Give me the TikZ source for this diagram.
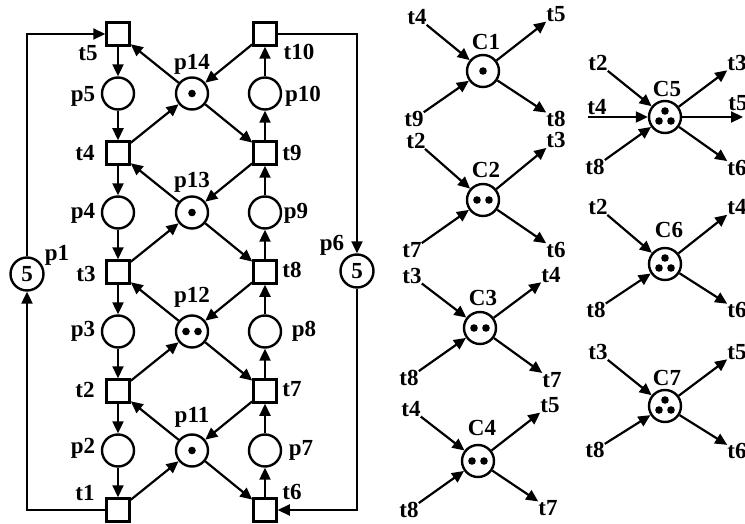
\documentclass[tikz,border=0pt]{standalone}
\usepackage{fontspec}
\setmainfont{Liberation Serif}
\usepackage{tikz}
\usetikzlibrary{arrows.meta, positioning}
\tikzstyle{place} = [circle, draw=black, line width=2.4pt, minimum size=32pt, inner sep=0pt]
\tikzstyle{trans} = [rectangle, draw=black, line width=3pt, minimum size=22.5pt, inner sep=0pt]
\tikzstyle{lbl} = [inner sep=0pt]
\tikzstyle{tok1} = [path picture={\fill (path picture bounding box.center) circle (3.8pt);}]
\tikzstyle{tok2} = [path picture={\fill ([xshift=-6pt]path picture bounding box.center) circle (3.8pt);
                                  \fill ([xshift=6pt]path picture bounding box.center) circle (3.8pt);}]
\tikzstyle{tok3} = [path picture={\fill ([yshift=6pt]path picture bounding box.center) circle (3.8pt);
                                  \fill ([xshift=-6pt,yshift=-4pt]path picture bounding box.center) circle (3.8pt);
                                  \fill ([xshift=6pt,yshift=-4pt]path picture bounding box.center) circle (3.8pt);}]
\tikzstyle{arcline} = [line width=2.2pt, -{Triangle[length=12pt,width=11pt]}]

\begin{document}
\begin{tikzpicture}[x=1pt, y=-1pt, node distance=59.5pt, font=\bfseries\fontsize{23}{24}\selectfont]
            \useasboundingbox (0,0) rectangle (745,524);
            % Nodes: left column
            \node (t5) [trans] at (118,34) {};
            \node (p5) [place, below of=t5] {};
            \node (t4) [trans, below of=p5] {};
            \node (p4) [place, below of=t4] {};
            \node (t3) [trans, below of=p4] {};
            \node (p3) [place, below of=t3] {};
            \node (t2) [trans, below of=p3] {};
            \node (p2) [place, below of=t2] {};
            \node (t1) [trans, below of=p2] {};

            % Nodes: shared places
            \node (p14) [place, tok1, right of=p5, node distance=74pt] {};
            \node (p13) [place, tok1, right of=p4, node distance=74pt] {};
            \node (p12) [place, tok2, right of=p3, node distance=74pt] {};
            \node (p11) [place, tok1, right of=p2, node distance=74pt] {};

            % Nodes: right column
            \node (t10) [trans, right of=t5, node distance=147pt] {};
            \node (p10) [place, right of=p5, node distance=147pt] {};
            \node (t9) [trans, right of=t4, node distance=147pt] {};
            \node (p9) [place, right of=p4, node distance=147pt] {};
            \node (t8) [trans, right of=t3, node distance=147pt] {};
            \node (p8) [place, right of=p3, node distance=147pt] {};
            \node (t7) [trans, right of=t2, node distance=147pt] {};
            \node (p7) [place, right of=p2, node distance=147pt] {};
            \node (t6) [trans, right of=t1, node distance=147pt] {};

            \node (p1) [place, minimum size=33pt] at (27,274) {5};
            \node (p6) [place, minimum size=33pt] at (357,271) {5};

            % Labels
            \node (lt5) [lbl] at (88,53) {t5};
            \node (lt4) [lbl] at (85,153) {t4};
            \node (lt3) [lbl] at (86,274) {t3};
            \node (lt2) [lbl] at (85,390) {t2};
            \node (lt1) [lbl] at (85,493) {t1};
            \node (lt10) [lbl] at (299,52) {t10};
            \node (lt9) [lbl] at (292,153) {t9};
            \node (lt8) [lbl] at (292,270) {t8};
            \node (lt7) [lbl] at (292,389) {t7};
            \node (lt6) [lbl] at (292,492) {t6};
            \node (lp5) [lbl] at (83,96) {p5};
            \node (lp4) [lbl] at (83,213) {p4};
            \node (lp3) [lbl] at (83,331) {p3};
            \node (lp2) [lbl] at (83,448) {p2};
            \node (lp10) [lbl] at (303,96) {p10};
            \node (lp9) [lbl] at (296,213) {p9};
            \node (lp8) [lbl] at (304,331) {p8};
            \node (lp7) [lbl] at (301,450) {p7};
            \node (lp14) [lbl] at (192,64) {p14};
            \node (lp13) [lbl] at (192,182) {p13};
            \node (lp12) [lbl] at (192,297) {p12};
            \node (lp11) [lbl] at (192,417) {p11};
            \node (lp1) [lbl] at (57,255) {p1};
            \node (lp6) [lbl] at (332,245) {p6};

            % Edges: left column
            \draw [arcline] (t5) -- (p5);
            \draw [arcline] (p5) -- (t4);
            \draw [arcline] (t4) -- (p4);
            \draw [arcline] (p4) -- (t3);
            \draw [arcline] (t3) -- (p3);
            \draw [arcline] (p3) -- (t2);
            \draw [arcline] (t2) -- (p2);
            \draw [arcline] (p2) -- (t1);
            % Edges: right column
            \draw [arcline] (t6) -- (p7);
            \draw [arcline] (p7) -- (t7);
            \draw [arcline] (t7) -- (p8);
            \draw [arcline] (p8) -- (t8);
            \draw [arcline] (t8) -- (p9);
            \draw [arcline] (p9) -- (t9);
            \draw [arcline] (t9) -- (p10);
            \draw [arcline] (p10) -- (t10);
            % Edges: shared places
            \draw [arcline] (p14) -- (t5);
            \draw [arcline] (t4) -- (p14);
            \draw [arcline] (p14) -- (t9);
            \draw [arcline] (t10) -- (p14);
            \draw [arcline] (p13) -- (t4);
            \draw [arcline] (t3) -- (p13);
            \draw [arcline] (p13) -- (t8);
            \draw [arcline] (t9) -- (p13);
            \draw [arcline] (p12) -- (t3);
            \draw [arcline] (t2) -- (p12);
            \draw [arcline] (p12) -- (t7);
            \draw [arcline] (t8) -- (p12);
            \draw [arcline] (p11) -- (t2);
            \draw [arcline] (t1) -- (p11);
            \draw [arcline] (p11) -- (t6);
            \draw [arcline] (t7) -- (p11);
            % Edges: resource loops
            \draw [arcline] (t1) -| (p1);
            \draw [arcline] (p1) |- (t5);
            \draw [arcline] (t10) -| (p6);
            \draw [arcline] (p6) |- (t6);

            % Nodes: monitors
            \node (C1) [place, tok1] at (483,71) {};
            \node (C2) [place, tok2] at (483,200) {};
            \node (C3) [place, tok2] at (480,328) {};
            \node (C4) [place, tok2] at (478,461) {};
            \node (C5) [place, tok3] at (665,117) {};
            \node (C6) [place, tok3] at (665,264) {};
            \node (C7) [place, tok3] at (665,406) {};
            \node (lc1) [lbl] at (486,42) {C1};
            \node (lc2) [lbl] at (486,170) {C2};
            \node (lc3) [lbl] at (483,298) {C3};
            \node (lc4) [lbl] at (482,428) {C4};
            \node (lc5) [lbl] at (667,89) {C5};
            \node (lc6) [lbl] at (669,230) {C6};
            \node (lc7) [lbl] at (667,378) {C7};

            \node (c1a) [lbl] at (417,17) {t4};
            \node (c1b) [lbl] at (414,119) {t9};
            \node (c1c) [lbl] at (556,14) {t5};
            \node (c1d) [lbl] at (556,119) {t8};
            \node (c2a) [lbl] at (416,141) {t2};
            \node (c2b) [lbl] at (412,250) {t7};
            \node (c2c) [lbl] at (556,140) {t3};
            \node (c2d) [lbl] at (556,250) {t6};
            \node (c3a) [lbl] at (412,276) {t3};
            \node (c3b) [lbl] at (409,378) {t8};
            \node (c3c) [lbl] at (551,275) {t4};
            \node (c3d) [lbl] at (552,380) {t7};
            \node (c4a) [lbl] at (411,409) {t4};
            \node (c4b) [lbl] at (409,510) {t8};
            \node (c4c) [lbl] at (550,405) {t5};
            \node (c4d) [lbl] at (548,508) {t7};
            \node (c5a) [lbl] at (598,63) {t2};
            \node (c5b) [lbl] at (597,107) {t4};
            \node (c5c) [lbl] at (595,167) {t8};
            \node (c5d) [lbl] at (737,63) {t3};
            \node (c5e) [lbl] at (738,103) {t5};
            \node (c5f) [lbl] at (737,168) {t6};
            \coordinate (c5in) at (588,117);
            \coordinate (c5out) at (743,117);
            \node (c6a) [lbl] at (598,207) {t2};
            \node (c6b) [lbl] at (596,310) {t8};
            \node (c6c) [lbl] at (737,207) {t4};
            \node (c6d) [lbl] at (737,310) {t6};
            \node (c7a) [lbl] at (598,352) {t3};
            \node (c7b) [lbl] at (595,450) {t8};
            \node (c7c) [lbl] at (737,352) {t5};
            \node (c7d) [lbl] at (737,451) {t6};

            % Edges: monitors
            \draw [arcline] (c1a) -- (C1);
            \draw [arcline] (c1b) -- (C1);
            \draw [arcline] (C1) -- (c1c);
            \draw [arcline] (C1) -- (c1d);
            \draw [arcline] (c2a) -- (C2);
            \draw [arcline] (c2b) -- (C2);
            \draw [arcline] (C2) -- (c2c);
            \draw [arcline] (C2) -- (c2d);
            \draw [arcline] (c3a) -- (C3);
            \draw [arcline] (c3b) -- (C3);
            \draw [arcline] (C3) -- (c3c);
            \draw [arcline] (C3) -- (c3d);
            \draw [arcline] (c4a) -- (C4);
            \draw [arcline] (c4b) -- (C4);
            \draw [arcline] (C4) -- (c4c);
            \draw [arcline] (C4) -- (c4d);
            \draw [arcline] (c5a) -- (C5);
            \draw [arcline] (c5in) -- (C5);
            \draw [arcline] (c5c) -- (C5);
            \draw [arcline] (C5) -- (c5d);
            \draw [arcline] (C5) -- (c5out);
            \draw [arcline] (C5) -- (c5f);
            \draw [arcline] (c6a) -- (C6);
            \draw [arcline] (c6b) -- (C6);
            \draw [arcline] (C6) -- (c6c);
            \draw [arcline] (C6) -- (c6d);
            \draw [arcline] (c7a) -- (C7);
            \draw [arcline] (c7b) -- (C7);
            \draw [arcline] (C7) -- (c7c);
            \draw [arcline] (C7) -- (c7d);
\end{tikzpicture}
\end{document}
